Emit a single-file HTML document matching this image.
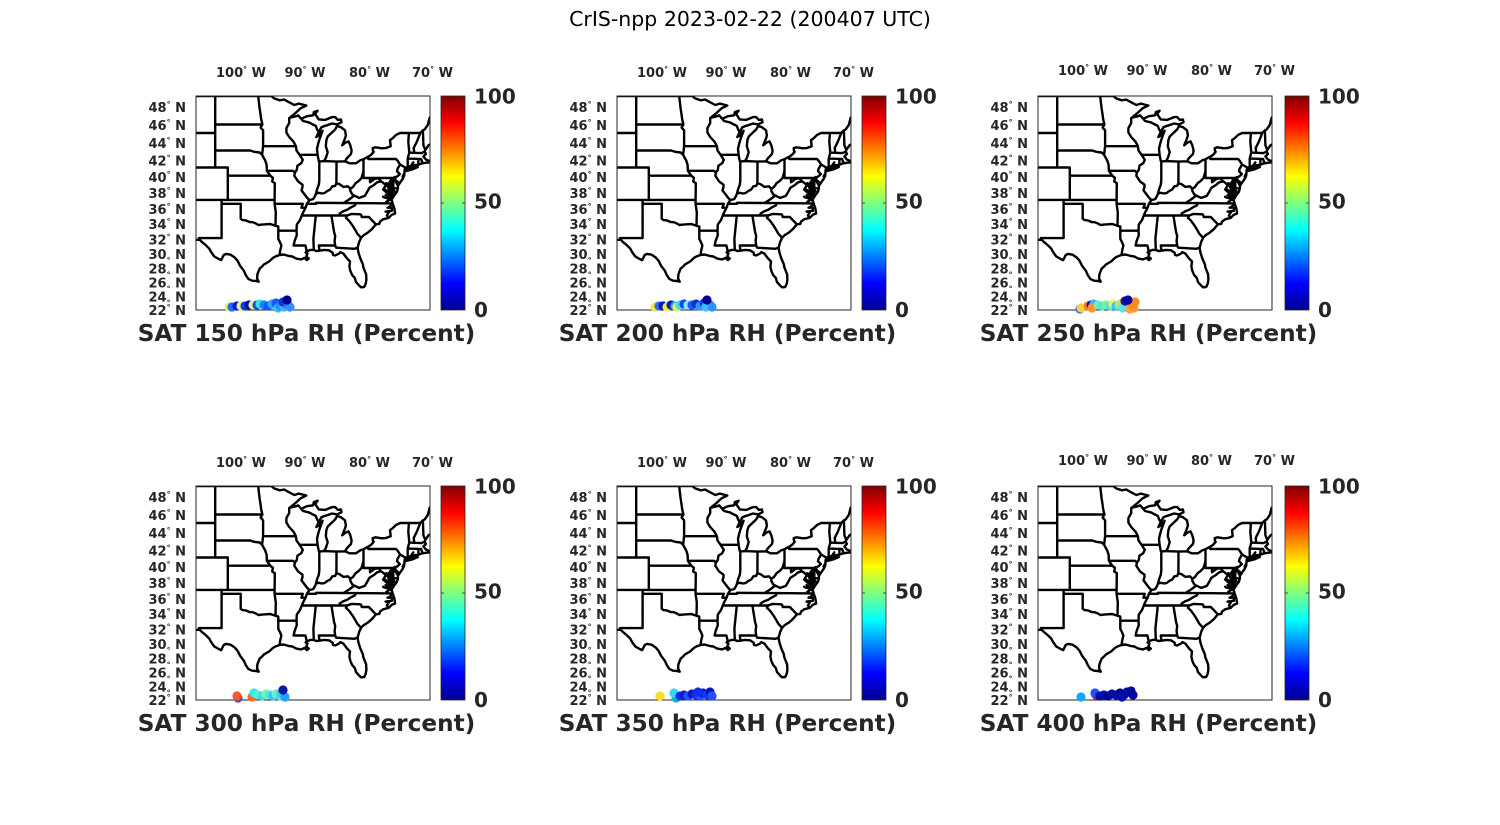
<!DOCTYPE html>
<html><head><meta charset="utf-8"><style>
html,body{margin:0;padding:0;background:#fff;}
svg{display:block;}
text{font-family:"DejaVu Sans","Liberation Sans",sans-serif;}
.tk{font-size:13px;font-weight:bold;fill:#262626;}
.cb{font-size:20px;font-weight:bold;fill:#262626;}
.tt{font-size:23.2px;font-weight:bold;fill:#262626;}
.dg{font-size:8px;}
.mp{fill:none;stroke:#000;stroke-width:2.4;stroke-linejoin:round;stroke-linecap:round;}
circle{r:4.6px;}
</style></head><body>
<svg width="1500" height="825" viewBox="0 0 1500 825" xmlns="http://www.w3.org/2000/svg">
<defs>
<linearGradient id="jet" x1="0" y1="1" x2="0" y2="0">
 <stop offset="0" stop-color="#00008f"/>
 <stop offset="0.125" stop-color="#0000ff"/>
 <stop offset="0.375" stop-color="#00ffff"/>
 <stop offset="0.625" stop-color="#ffff00"/>
 <stop offset="0.875" stop-color="#ff0000"/>
 <stop offset="1" stop-color="#800000"/>
</linearGradient>
<clipPath id="fc"><rect x="0" y="0" width="234" height="214"/></clipPath>
</defs>
<rect width="1500" height="825" fill="#fff"/>
<text x="750" y="26" text-anchor="middle" font-size="20.5" fill="#000">CrIS-npp 2023-02-22 (200407 UTC)</text>

<!-- PANEL 1 -->
<g transform="translate(196,96)">
<g clip-path="url(#fc)"><path class="mp"/><path class="bay" fill="#000"/></g>
<rect x="0" y="0" width="234" height="214" fill="none" stroke="#262626" stroke-width="1"/>
<rect x="245" y="0" width="24" height="214" fill="url(#jet)" stroke="#262626" stroke-width="0.8"/>
<path d="M266 0.5H269M266 107H269M266 213.5H269M245 107H248" stroke="#262626" stroke-width="0.8"/>
<text class="cb" x="278" y="7.5">100</text><text class="cb" x="278" y="112.5">50</text><text class="cb" x="278" y="221">0</text>
<text class="tk" x="45" y="-19" text-anchor="middle">100<tspan class="dg" dy="-5">°</tspan><tspan dy="5"> W</tspan></text>
<text class="tk" x="109" y="-19" text-anchor="middle">90<tspan class="dg" dy="-5">°</tspan><tspan dy="5"> W</tspan></text>
<text class="tk" x="173.5" y="-19" text-anchor="middle">80<tspan class="dg" dy="-5">°</tspan><tspan dy="5"> W</tspan></text>
<text class="tk" x="236.5" y="-19" text-anchor="middle">70<tspan class="dg" dy="-5">°</tspan><tspan dy="5"> W</tspan></text>
<g text-anchor="end">
<text class="tk" x="-10" y="16">48<tspan class="dg" dy="-5">°</tspan><tspan dy="5"> N</tspan></text>
<text class="tk" x="-10" y="34">46<tspan class="dg" dy="-5">°</tspan><tspan dy="5"> N</tspan></text>
<text class="tk" x="-10" y="52">44<tspan class="dg" dy="-5">°</tspan><tspan dy="5"> N</tspan></text>
<text class="tk" x="-10" y="69.5">42<tspan class="dg" dy="-5">°</tspan><tspan dy="5"> N</tspan></text>
<text class="tk" x="-10" y="86">40<tspan class="dg" dy="-5">°</tspan><tspan dy="5"> N</tspan></text>
<text class="tk" x="-10" y="102">38<tspan class="dg" dy="-5">°</tspan><tspan dy="5"> N</tspan></text>
<text class="tk" x="-10" y="118">36<tspan class="dg" dy="-5">°</tspan><tspan dy="5"> N</tspan></text>
<text class="tk" x="-10" y="133">34<tspan class="dg" dy="-5">°</tspan><tspan dy="5"> N</tspan></text>
<text class="tk" x="-10" y="148.5">32<tspan class="dg" dy="-5">°</tspan><tspan dy="5"> N</tspan></text>
<text class="tk" x="-10" y="163">30<tspan class="dg" dy="4">°</tspan><tspan dy="-4"> N</tspan></text>
<text class="tk" x="-10" y="177.5">28<tspan class="dg" dy="4">°</tspan><tspan dy="-4"> N</tspan></text>
<text class="tk" x="-10" y="191.5">26<tspan class="dg" dy="4">°</tspan><tspan dy="-4"> N</tspan></text>
<text class="tk" x="-10" y="205.5">24<tspan class="dg" dy="4">°</tspan><tspan dy="-4"> N</tspan></text>
<text class="tk" x="-10" y="219">22<tspan class="dg" dy="-5">°</tspan><tspan dy="5"> N</tspan></text>
</g>
<text class="tt" x="110.5" y="245" text-anchor="middle">SAT 150 hPa RH (Percent)</text>
</g>

<!-- PANEL 2 -->
<g transform="translate(617,96)">
<g clip-path="url(#fc)"><path class="mp"/><path class="bay" fill="#000"/></g>
<rect x="0" y="0" width="234" height="214" fill="none" stroke="#262626" stroke-width="1"/>
<rect x="245" y="0" width="24" height="214" fill="url(#jet)" stroke="#262626" stroke-width="0.8"/>
<path d="M266 0.5H269M266 107H269M266 213.5H269M245 107H248" stroke="#262626" stroke-width="0.8"/>
<text class="cb" x="278" y="7.5">100</text><text class="cb" x="278" y="112.5">50</text><text class="cb" x="278" y="221">0</text>
<text class="tk" x="45" y="-19" text-anchor="middle">100<tspan class="dg" dy="-5">°</tspan><tspan dy="5"> W</tspan></text>
<text class="tk" x="109" y="-19" text-anchor="middle">90<tspan class="dg" dy="-5">°</tspan><tspan dy="5"> W</tspan></text>
<text class="tk" x="173.5" y="-19" text-anchor="middle">80<tspan class="dg" dy="-5">°</tspan><tspan dy="5"> W</tspan></text>
<text class="tk" x="236.5" y="-19" text-anchor="middle">70<tspan class="dg" dy="-5">°</tspan><tspan dy="5"> W</tspan></text>
<g text-anchor="end">
<text class="tk" x="-10" y="16">48<tspan class="dg" dy="-5">°</tspan><tspan dy="5"> N</tspan></text>
<text class="tk" x="-10" y="34">46<tspan class="dg" dy="-5">°</tspan><tspan dy="5"> N</tspan></text>
<text class="tk" x="-10" y="52">44<tspan class="dg" dy="-5">°</tspan><tspan dy="5"> N</tspan></text>
<text class="tk" x="-10" y="69.5">42<tspan class="dg" dy="-5">°</tspan><tspan dy="5"> N</tspan></text>
<text class="tk" x="-10" y="86">40<tspan class="dg" dy="-5">°</tspan><tspan dy="5"> N</tspan></text>
<text class="tk" x="-10" y="102">38<tspan class="dg" dy="-5">°</tspan><tspan dy="5"> N</tspan></text>
<text class="tk" x="-10" y="118">36<tspan class="dg" dy="-5">°</tspan><tspan dy="5"> N</tspan></text>
<text class="tk" x="-10" y="133">34<tspan class="dg" dy="-5">°</tspan><tspan dy="5"> N</tspan></text>
<text class="tk" x="-10" y="148.5">32<tspan class="dg" dy="-5">°</tspan><tspan dy="5"> N</tspan></text>
<text class="tk" x="-10" y="163">30<tspan class="dg" dy="4">°</tspan><tspan dy="-4"> N</tspan></text>
<text class="tk" x="-10" y="177.5">28<tspan class="dg" dy="4">°</tspan><tspan dy="-4"> N</tspan></text>
<text class="tk" x="-10" y="191.5">26<tspan class="dg" dy="4">°</tspan><tspan dy="-4"> N</tspan></text>
<text class="tk" x="-10" y="205.5">24<tspan class="dg" dy="4">°</tspan><tspan dy="-4"> N</tspan></text>
<text class="tk" x="-10" y="219">22<tspan class="dg" dy="-5">°</tspan><tspan dy="5"> N</tspan></text>
</g>
<text class="tt" x="110.5" y="245" text-anchor="middle">SAT 200 hPa RH (Percent)</text>
</g>

<!-- PANEL 3 -->
<g transform="translate(1038,96)">
<g clip-path="url(#fc)"><path class="mp"/><path class="bay" fill="#000"/></g>
<rect x="0" y="0" width="234" height="214" fill="none" stroke="#262626" stroke-width="1"/>
<rect x="247" y="0" width="24" height="214" fill="url(#jet)" stroke="#262626" stroke-width="0.8"/>
<path d="M268 0.5H271M268 107H271M268 213.5H271M247 107H250" stroke="#262626" stroke-width="0.8"/>
<text class="cb" x="280" y="7.5">100</text><text class="cb" x="280" y="112.5">50</text><text class="cb" x="280" y="221">0</text>
<text class="tk" x="45" y="-21" text-anchor="middle">100<tspan class="dg" dy="-5">°</tspan><tspan dy="5"> W</tspan></text>
<text class="tk" x="109" y="-21" text-anchor="middle">90<tspan class="dg" dy="-5">°</tspan><tspan dy="5"> W</tspan></text>
<text class="tk" x="173.5" y="-21" text-anchor="middle">80<tspan class="dg" dy="-5">°</tspan><tspan dy="5"> W</tspan></text>
<text class="tk" x="236.5" y="-21" text-anchor="middle">70<tspan class="dg" dy="-5">°</tspan><tspan dy="5"> W</tspan></text>
<g text-anchor="end">
<text class="tk" x="-10" y="16">48<tspan class="dg" dy="-5">°</tspan><tspan dy="5"> N</tspan></text>
<text class="tk" x="-10" y="34">46<tspan class="dg" dy="-5">°</tspan><tspan dy="5"> N</tspan></text>
<text class="tk" x="-10" y="52">44<tspan class="dg" dy="-5">°</tspan><tspan dy="5"> N</tspan></text>
<text class="tk" x="-10" y="69.5">42<tspan class="dg" dy="-5">°</tspan><tspan dy="5"> N</tspan></text>
<text class="tk" x="-10" y="86">40<tspan class="dg" dy="-5">°</tspan><tspan dy="5"> N</tspan></text>
<text class="tk" x="-10" y="102">38<tspan class="dg" dy="-5">°</tspan><tspan dy="5"> N</tspan></text>
<text class="tk" x="-10" y="118">36<tspan class="dg" dy="-5">°</tspan><tspan dy="5"> N</tspan></text>
<text class="tk" x="-10" y="133">34<tspan class="dg" dy="-5">°</tspan><tspan dy="5"> N</tspan></text>
<text class="tk" x="-10" y="148.5">32<tspan class="dg" dy="-5">°</tspan><tspan dy="5"> N</tspan></text>
<text class="tk" x="-10" y="163">30<tspan class="dg" dy="4">°</tspan><tspan dy="-4"> N</tspan></text>
<text class="tk" x="-10" y="177.5">28<tspan class="dg" dy="4">°</tspan><tspan dy="-4"> N</tspan></text>
<text class="tk" x="-10" y="191.5">26<tspan class="dg" dy="4">°</tspan><tspan dy="-4"> N</tspan></text>
<text class="tk" x="-10" y="205.5">24<tspan class="dg" dy="4">°</tspan><tspan dy="-4"> N</tspan></text>
<text class="tk" x="-10" y="219">22<tspan class="dg" dy="-5">°</tspan><tspan dy="5"> N</tspan></text>
</g>
<text class="tt" x="110.5" y="245" text-anchor="middle">SAT 250 hPa RH (Percent)</text>
</g>

<!-- PANEL 4 -->
<g transform="translate(196,486)">
<g clip-path="url(#fc)"><path class="mp"/><path class="bay" fill="#000"/></g>
<rect x="0" y="0" width="234" height="214" fill="none" stroke="#262626" stroke-width="1"/>
<rect x="245" y="0" width="24" height="214" fill="url(#jet)" stroke="#262626" stroke-width="0.8"/>
<path d="M266 0.5H269M266 107H269M266 213.5H269M245 107H248" stroke="#262626" stroke-width="0.8"/>
<text class="cb" x="278" y="7.5">100</text><text class="cb" x="278" y="112.5">50</text><text class="cb" x="278" y="221">0</text>
<text class="tk" x="45" y="-19" text-anchor="middle">100<tspan class="dg" dy="-5">°</tspan><tspan dy="5"> W</tspan></text>
<text class="tk" x="109" y="-19" text-anchor="middle">90<tspan class="dg" dy="-5">°</tspan><tspan dy="5"> W</tspan></text>
<text class="tk" x="173.5" y="-19" text-anchor="middle">80<tspan class="dg" dy="-5">°</tspan><tspan dy="5"> W</tspan></text>
<text class="tk" x="236.5" y="-19" text-anchor="middle">70<tspan class="dg" dy="-5">°</tspan><tspan dy="5"> W</tspan></text>
<g text-anchor="end">
<text class="tk" x="-10" y="16">48<tspan class="dg" dy="-5">°</tspan><tspan dy="5"> N</tspan></text>
<text class="tk" x="-10" y="34">46<tspan class="dg" dy="-5">°</tspan><tspan dy="5"> N</tspan></text>
<text class="tk" x="-10" y="52">44<tspan class="dg" dy="-5">°</tspan><tspan dy="5"> N</tspan></text>
<text class="tk" x="-10" y="69.5">42<tspan class="dg" dy="-5">°</tspan><tspan dy="5"> N</tspan></text>
<text class="tk" x="-10" y="86">40<tspan class="dg" dy="-5">°</tspan><tspan dy="5"> N</tspan></text>
<text class="tk" x="-10" y="102">38<tspan class="dg" dy="-5">°</tspan><tspan dy="5"> N</tspan></text>
<text class="tk" x="-10" y="118">36<tspan class="dg" dy="-5">°</tspan><tspan dy="5"> N</tspan></text>
<text class="tk" x="-10" y="133">34<tspan class="dg" dy="-5">°</tspan><tspan dy="5"> N</tspan></text>
<text class="tk" x="-10" y="148.5">32<tspan class="dg" dy="-5">°</tspan><tspan dy="5"> N</tspan></text>
<text class="tk" x="-10" y="163">30<tspan class="dg" dy="4">°</tspan><tspan dy="-4"> N</tspan></text>
<text class="tk" x="-10" y="177.5">28<tspan class="dg" dy="4">°</tspan><tspan dy="-4"> N</tspan></text>
<text class="tk" x="-10" y="191.5">26<tspan class="dg" dy="4">°</tspan><tspan dy="-4"> N</tspan></text>
<text class="tk" x="-10" y="205.5">24<tspan class="dg" dy="4">°</tspan><tspan dy="-4"> N</tspan></text>
<text class="tk" x="-10" y="219">22<tspan class="dg" dy="-5">°</tspan><tspan dy="5"> N</tspan></text>
</g>
<text class="tt" x="110.5" y="245" text-anchor="middle">SAT 300 hPa RH (Percent)</text>
</g>

<!-- PANEL 5 -->
<g transform="translate(617,486)">
<g clip-path="url(#fc)"><path class="mp"/><path class="bay" fill="#000"/></g>
<rect x="0" y="0" width="234" height="214" fill="none" stroke="#262626" stroke-width="1"/>
<rect x="245" y="0" width="24" height="214" fill="url(#jet)" stroke="#262626" stroke-width="0.8"/>
<path d="M266 0.5H269M266 107H269M266 213.5H269M245 107H248" stroke="#262626" stroke-width="0.8"/>
<text class="cb" x="278" y="7.5">100</text><text class="cb" x="278" y="112.5">50</text><text class="cb" x="278" y="221">0</text>
<text class="tk" x="45" y="-19" text-anchor="middle">100<tspan class="dg" dy="-5">°</tspan><tspan dy="5"> W</tspan></text>
<text class="tk" x="109" y="-19" text-anchor="middle">90<tspan class="dg" dy="-5">°</tspan><tspan dy="5"> W</tspan></text>
<text class="tk" x="173.5" y="-19" text-anchor="middle">80<tspan class="dg" dy="-5">°</tspan><tspan dy="5"> W</tspan></text>
<text class="tk" x="236.5" y="-19" text-anchor="middle">70<tspan class="dg" dy="-5">°</tspan><tspan dy="5"> W</tspan></text>
<g text-anchor="end">
<text class="tk" x="-10" y="16">48<tspan class="dg" dy="-5">°</tspan><tspan dy="5"> N</tspan></text>
<text class="tk" x="-10" y="34">46<tspan class="dg" dy="-5">°</tspan><tspan dy="5"> N</tspan></text>
<text class="tk" x="-10" y="52">44<tspan class="dg" dy="-5">°</tspan><tspan dy="5"> N</tspan></text>
<text class="tk" x="-10" y="69.5">42<tspan class="dg" dy="-5">°</tspan><tspan dy="5"> N</tspan></text>
<text class="tk" x="-10" y="86">40<tspan class="dg" dy="-5">°</tspan><tspan dy="5"> N</tspan></text>
<text class="tk" x="-10" y="102">38<tspan class="dg" dy="-5">°</tspan><tspan dy="5"> N</tspan></text>
<text class="tk" x="-10" y="118">36<tspan class="dg" dy="-5">°</tspan><tspan dy="5"> N</tspan></text>
<text class="tk" x="-10" y="133">34<tspan class="dg" dy="-5">°</tspan><tspan dy="5"> N</tspan></text>
<text class="tk" x="-10" y="148.5">32<tspan class="dg" dy="-5">°</tspan><tspan dy="5"> N</tspan></text>
<text class="tk" x="-10" y="163">30<tspan class="dg" dy="4">°</tspan><tspan dy="-4"> N</tspan></text>
<text class="tk" x="-10" y="177.5">28<tspan class="dg" dy="4">°</tspan><tspan dy="-4"> N</tspan></text>
<text class="tk" x="-10" y="191.5">26<tspan class="dg" dy="4">°</tspan><tspan dy="-4"> N</tspan></text>
<text class="tk" x="-10" y="205.5">24<tspan class="dg" dy="4">°</tspan><tspan dy="-4"> N</tspan></text>
<text class="tk" x="-10" y="219">22<tspan class="dg" dy="-5">°</tspan><tspan dy="5"> N</tspan></text>
</g>
<text class="tt" x="110.5" y="245" text-anchor="middle">SAT 350 hPa RH (Percent)</text>
</g>

<!-- PANEL 6 -->
<g transform="translate(1038,486)">
<g clip-path="url(#fc)"><path class="mp"/><path class="bay" fill="#000"/></g>
<rect x="0" y="0" width="234" height="214" fill="none" stroke="#262626" stroke-width="1"/>
<rect x="247" y="0" width="24" height="214" fill="url(#jet)" stroke="#262626" stroke-width="0.8"/>
<path d="M268 0.5H271M268 107H271M268 213.5H271M247 107H250" stroke="#262626" stroke-width="0.8"/>
<text class="cb" x="280" y="7.5">100</text><text class="cb" x="280" y="112.5">50</text><text class="cb" x="280" y="221">0</text>
<text class="tk" x="45" y="-21" text-anchor="middle">100<tspan class="dg" dy="-5">°</tspan><tspan dy="5"> W</tspan></text>
<text class="tk" x="109" y="-21" text-anchor="middle">90<tspan class="dg" dy="-5">°</tspan><tspan dy="5"> W</tspan></text>
<text class="tk" x="173.5" y="-21" text-anchor="middle">80<tspan class="dg" dy="-5">°</tspan><tspan dy="5"> W</tspan></text>
<text class="tk" x="236.5" y="-21" text-anchor="middle">70<tspan class="dg" dy="-5">°</tspan><tspan dy="5"> W</tspan></text>
<g text-anchor="end">
<text class="tk" x="-10" y="16">48<tspan class="dg" dy="-5">°</tspan><tspan dy="5"> N</tspan></text>
<text class="tk" x="-10" y="34">46<tspan class="dg" dy="-5">°</tspan><tspan dy="5"> N</tspan></text>
<text class="tk" x="-10" y="52">44<tspan class="dg" dy="-5">°</tspan><tspan dy="5"> N</tspan></text>
<text class="tk" x="-10" y="69.5">42<tspan class="dg" dy="-5">°</tspan><tspan dy="5"> N</tspan></text>
<text class="tk" x="-10" y="86">40<tspan class="dg" dy="-5">°</tspan><tspan dy="5"> N</tspan></text>
<text class="tk" x="-10" y="102">38<tspan class="dg" dy="-5">°</tspan><tspan dy="5"> N</tspan></text>
<text class="tk" x="-10" y="118">36<tspan class="dg" dy="-5">°</tspan><tspan dy="5"> N</tspan></text>
<text class="tk" x="-10" y="133">34<tspan class="dg" dy="-5">°</tspan><tspan dy="5"> N</tspan></text>
<text class="tk" x="-10" y="148.5">32<tspan class="dg" dy="-5">°</tspan><tspan dy="5"> N</tspan></text>
<text class="tk" x="-10" y="163">30<tspan class="dg" dy="4">°</tspan><tspan dy="-4"> N</tspan></text>
<text class="tk" x="-10" y="177.5">28<tspan class="dg" dy="4">°</tspan><tspan dy="-4"> N</tspan></text>
<text class="tk" x="-10" y="191.5">26<tspan class="dg" dy="4">°</tspan><tspan dy="-4"> N</tspan></text>
<text class="tk" x="-10" y="205.5">24<tspan class="dg" dy="4">°</tspan><tspan dy="-4"> N</tspan></text>
<text class="tk" x="-10" y="219">22<tspan class="dg" dy="-5">°</tspan><tspan dy="5"> N</tspan></text>
</g>
<text class="tt" x="110.5" y="245" text-anchor="middle">SAT 400 hPa RH (Percent)</text>
</g>

<!-- DOTS (coords in panel-1 absolute space) -->
<g transform="translate(0,0)">
<circle cx="229" cy="307" r="4.6" fill="#e4f26a"/><circle cx="232" cy="307" r="4.6" fill="#1e6cff"/>
<circle cx="237" cy="306" r="4.6" fill="#0a1ad0"/><circle cx="241" cy="306" r="4.6" fill="#e8f27a"/>
<circle cx="245" cy="306" r="4.6" fill="#0e3cf0"/><circle cx="249" cy="305" r="4.6" fill="#00109c"/>
<circle cx="253" cy="305" r="4.6" fill="#eaf08a"/><circle cx="257" cy="305" r="4.6" fill="#1a4ee6"/>
<circle cx="260" cy="304" r="4.6" fill="#36e6e0"/><circle cx="264" cy="305" r="4.6" fill="#1e82ff"/>
<circle cx="268" cy="306" r="4.6" fill="#0a5cff"/><circle cx="272" cy="304" r="4.6" fill="#3ca0ff"/>
<circle cx="276" cy="303" r="4.6" fill="#1858ff"/><circle cx="278" cy="308" r="4.6" fill="#30c4ff"/>
<circle cx="280" cy="306" r="4.6" fill="#2f8cff"/><circle cx="284" cy="307" r="4.6" fill="#3fb0ff"/>
<circle cx="283" cy="302" r="4.6" fill="#0a36d6"/><circle cx="288" cy="305" r="4.6" fill="#1f6eff"/>
<circle cx="290" cy="307" r="4.6" fill="#3c8cff"/><circle cx="287" cy="300" r="4.6" fill="#00008c"/>
</g>
<g transform="translate(421,0)">
<circle cx="234" cy="307" r="4.6" fill="#f2e840"/><circle cx="238" cy="306" r="4.6" fill="#2a70ff"/>
<circle cx="242" cy="306" r="4.6" fill="#0818b8"/><circle cx="246" cy="307" r="4.6" fill="#f4ea40"/>
<circle cx="250" cy="305" r="4.6" fill="#0a20c0"/><circle cx="254" cy="306" r="4.6" fill="#30a8ff"/>
<circle cx="256" cy="307" r="4.6" fill="#f2ea50"/><circle cx="259" cy="305" r="4.6" fill="#30e0f0"/>
<circle cx="263" cy="304" r="4.6" fill="#1446f0"/><circle cx="267" cy="305" r="4.6" fill="#8ae8ff"/>
<circle cx="271" cy="305" r="4.6" fill="#1a5cff"/><circle cx="275" cy="304" r="4.6" fill="#0c30d8"/>
<circle cx="279" cy="306" r="4.6" fill="#3296ff"/><circle cx="283" cy="303" r="4.6" fill="#1040e8"/>
<circle cx="289" cy="305" r="4.6" fill="#2a78ff"/><circle cx="285" cy="307" r="4.6" fill="#40c0ff"/>
<circle cx="291" cy="307" r="4.6" fill="#3090ff"/><circle cx="286" cy="300" r="4.6" fill="#00008c"/>
</g>
<g transform="translate(842,0)">
<circle cx="238" cy="309" r="4.6" fill="#2a60ff"/><circle cx="239" cy="308" r="4.6" fill="#f8d040"/>
<circle cx="246" cy="306" r="4.6" fill="#ff8020"/><circle cx="249" cy="305" r="4.6" fill="#101ab0"/>
<circle cx="252" cy="304" r="4.6" fill="#40b0ff"/><circle cx="250" cy="308" r="4.6" fill="#ff9030"/>
<circle cx="256" cy="305" r="4.6" fill="#70f0b0"/><circle cx="260" cy="306" r="4.6" fill="#50e8d0"/>
<circle cx="264" cy="305" r="4.6" fill="#80f0a0"/><circle cx="268" cy="306" r="4.6" fill="#50e0e0"/>
<circle cx="271" cy="304" r="4.6" fill="#f0f060"/><circle cx="274" cy="306" r="4.6" fill="#40c0ff"/>
<circle cx="277" cy="305" r="4.6" fill="#80f0b0"/><circle cx="280" cy="303" r="4.6" fill="#f0d040"/>
<circle cx="281" cy="308" r="4.6" fill="#60e0e0"/><circle cx="288" cy="309" r="4.6" fill="#ffa040"/>
<circle cx="292" cy="308" r="4.6" fill="#ff9a30"/><circle cx="290" cy="305" r="4.6" fill="#ff8a20"/>
<circle cx="293" cy="302" r="4.6" fill="#ff8a20"/><circle cx="283" cy="301" r="4.6" fill="#0818a8"/>
<circle cx="286" cy="300" r="4.6" fill="#0000a0"/>
</g>
<g transform="translate(0,390)">
<circle cx="238" cy="308" r="4.6" fill="#6040b0"/><circle cx="237" cy="306" r="4.6" fill="#ee5a2a"/>
<circle cx="252" cy="307" r="4.6" fill="#ff6a20"/><circle cx="254" cy="303" r="4.6" fill="#30e8f0"/>
<circle cx="258" cy="305" r="4.6" fill="#60f0c0"/><circle cx="262" cy="306" r="4.6" fill="#40d8f0"/>
<circle cx="266" cy="304" r="4.6" fill="#80f0b0"/><circle cx="270" cy="305" r="4.6" fill="#50e8d8"/>
<circle cx="273" cy="306" r="4.6" fill="#30c8ff"/><circle cx="276" cy="304" r="4.6" fill="#70f0c0"/>
<circle cx="280" cy="306" r="4.6" fill="#50e0e0"/><circle cx="281" cy="303" r="4.6" fill="#40c8f0"/>
<circle cx="285" cy="307" r="4.6" fill="#20a0ff"/><circle cx="283" cy="300" r="4.6" fill="#0a1aa0"/>
</g>
<g transform="translate(421,390)">
<circle cx="239" cy="306" r="4.6" fill="#f8e020"/><circle cx="255" cy="308" r="4.6" fill="#20b0c0"/>
<circle cx="253" cy="303" r="4.6" fill="#30d8ff"/><circle cx="259" cy="306" r="4.6" fill="#1030f0"/>
<circle cx="263" cy="305" r="4.6" fill="#0a20d0"/><circle cx="267" cy="306" r="4.6" fill="#2050ff"/>
<circle cx="271" cy="304" r="4.6" fill="#0818c0"/><circle cx="275" cy="305" r="4.6" fill="#1030f0"/>
<circle cx="279" cy="306" r="4.6" fill="#2050ff"/><circle cx="282" cy="303" r="4.6" fill="#0a20d0"/>
<circle cx="286" cy="305" r="4.6" fill="#1838ff"/><circle cx="289" cy="302" r="4.6" fill="#0818c0"/>
<circle cx="291" cy="306" r="4.6" fill="#2050ff"/><circle cx="277" cy="302" r="4.6" fill="#1030f0"/>
</g>
<g transform="translate(842,390)">
<circle cx="239" cy="307" r="4.6" fill="#10a8ff"/><circle cx="254" cy="305" r="4.6" fill="#a02060"/>
<circle cx="253" cy="303" r="4.6" fill="#2050ff"/><circle cx="258" cy="306" r="4.6" fill="#000a9c"/>
<circle cx="262" cy="305" r="4.6" fill="#0010b0"/><circle cx="266" cy="306" r="4.6" fill="#000890"/>
<circle cx="270" cy="304" r="4.6" fill="#000a9c"/><circle cx="274" cy="305" r="4.6" fill="#0010b0"/>
<circle cx="278" cy="303" r="4.6" fill="#000890"/><circle cx="282" cy="305" r="4.6" fill="#000a9c"/>
<circle cx="285" cy="302" r="4.6" fill="#0010b0"/><circle cx="289" cy="301" r="4.6" fill="#000890"/>
<circle cx="291" cy="305" r="4.6" fill="#000a9c"/><circle cx="280" cy="307" r="4.6" fill="#0010b0"/>
</g>
</svg>
<script>
(function(){
function merc(l){return Math.log(Math.tan(Math.PI/4+l*Math.PI/360));}
var K=6.3,R=6.3*180/Math.PI,M49=merc(49),L0=-107.1;
function P(lon,lat){return ((lon-L0)*K).toFixed(1)+' '+((M49-merc(lat))*R).toFixed(1);}
var L=[
[-108,49,-95.15,49,-94.7,48.75,-93.8,48.55,-93.1,48.63,-92.6,48.45,-91.5,48.05,-90.8,48.2,-89.6,48.0,-90.5,47.7,-91.3,47.2,-92.1,46.75,-92.3,46.65,-92.3,46.1,-92.75,45.55,-92.75,45.05,-92.3,44.55,-91.6,44.0,-91.25,43.5,-91.15,43.0,-90.65,42.5,-90.15,41.9,-90.4,41.5,-91.0,41.2,-91.1,40.7,-91.4,40.38,-91.5,40.0,-90.9,39.3,-90.2,38.9,-90.2,38.6,-90.35,38.2,-89.5,37.3,-89.1,36.98,-89.5,36.5,-89.7,36.0,-90.1,35.4,-90.3,35.0,-90.6,34.4,-91.1,33.8,-91.15,33.0,-91.1,32.4,-91.45,31.6,-91.6,31.0,-89.73,31.0,-89.6,30.5,-89.55,30.2],
[-104.05,49,-104.05,41,-102.05,41,-102.05,37],
[-108,45,-104.05,45],
[-108,41,-104.05,41],
[-108,37,-94.62,37],
[-104.05,45.94,-96.56,45.94],
[-97.23,49,-97.15,48.5,-97.0,47.7,-96.85,47.0,-96.75,46.5,-96.56,45.94,-96.85,45.6,-96.45,45.3,-96.45,43.5,-91.25,43.5],
[-104.05,43,-98.5,43,-97.9,42.85,-97.0,42.77,-96.6,42.5,-96.1,41.8,-95.9,41.3,-95.85,40.6,-95.3,40.0,-94.9,39.75,-95.0,39.3,-94.6,39.1,-94.62,37,-94.62,36.5,-94.43,35.4,-94.48,33.64],
[-96.6,42.5,-96.45,43.5],
[-102.05,40,-95.3,40],
[-95.85,40.6,-91.7,40.6,-91.4,40.38],
[-103.04,32.0,-103.04,37],
[-103.04,36.5,-100,36.5,-100,34.56,-99.7,34.4,-99.2,34.35,-98.6,34.15,-98.1,34.12,-97.6,33.95,-97.2,33.75,-96.6,33.8,-96.0,33.85,-95.3,33.88,-94.48,33.64,-94.04,33.55,-94.04,31.9,-93.8,31.5,-93.55,31.0,-93.72,30.4,-93.85,29.7],
[-108,31.78,-106.5,31.78,-106.62,32.0,-103.04,32.0],
[-93.85,29.7,-94.5,29.5,-94.8,29.35,-95.0,29.2,-95.5,28.8,-96.3,28.4,-96.6,28.1,-97.0,27.8,-97.35,27.0,-97.4,26.4,-97.15,25.95,-97.6,26.05,-98.2,26.1,-98.8,26.35,-99.2,26.9,-99.5,27.5,-100.1,28.2,-100.5,28.9,-101.0,29.4,-101.6,29.75,-102.3,29.85,-102.7,29.7,-103.1,29.0,-103.5,29.15,-104.2,29.5,-104.7,30.1,-105.0,30.6,-105.6,31.1,-106.2,31.5,-106.62,31.9],
[-94.62,36.5,-90.15,36.5,-90.37,36.0,-89.7,36.0],
[-94.04,33.0,-91.15,33.0],
[-89.55,30.2,-89.7,30.05,-89.4,29.9,-89.6,29.5,-89.2,29.2,-89.5,29.0,-89.9,29.3,-90.4,29.1,-91.2,29.2,-91.8,29.5,-92.3,29.55,-93.2,29.77,-93.85,29.7],
[-89.55,30.2,-88.9,30.4,-88.4,30.4,-88.47,31.9,-88.1,34.9,-88.2,35.0],
[-90.3,35.0,-84.32,34.99],
[-89.5,36.5,-88.05,36.5,-88.05,36.63,-83.67,36.6,-81.68,36.59,-75.9,36.55],
[-81.68,36.59,-81.9,36.3,-82.6,36.0,-83.1,35.75,-83.7,35.55,-84.3,35.25,-84.32,34.99],
[-85.6,35.0,-85.18,32.8,-85.0,32.3,-85.1,31.6,-85.0,31.0,-87.6,31.0,-87.5,30.3,-88.0,30.25,-88.4,30.4],
[-85.0,31.0,-84.86,30.7,-82.2,30.57,-82.0,30.55,-81.45,30.7],
[-81.45,30.7,-81.3,30.0,-81.0,29.2,-80.6,28.4,-80.55,28.0,-80.1,27.0,-80.05,26.3,-80.15,25.7,-80.4,25.2,-80.9,25.15,-81.2,25.4,-81.7,25.9,-81.9,26.5,-82.3,26.9,-82.6,27.5,-82.75,28.1,-82.65,28.8,-83.2,29.3,-83.7,29.9,-84.2,30.1,-84.4,29.9,-85.0,29.65,-85.35,29.7,-85.4,30.0,-86.0,30.35,-86.8,30.4,-87.5,30.3],
[-84.32,34.99,-83.1,35.0,-82.4,35.2,-81.05,35.15,-80.9,35.1,-80.8,34.8,-79.67,34.8,-78.55,33.85],
[-83.1,35.0,-83.3,34.7,-82.8,34.3,-82.2,33.6,-81.9,33.2,-81.5,32.6,-80.9,32.05],
[-80.9,32.05,-81.2,31.5,-81.45,30.7],
[-78.55,33.85,-79.2,33.2,-79.9,32.7,-80.5,32.4,-80.9,32.05],
[-78.55,33.85,-78.0,33.9,-77.9,34.2,-77.4,34.5,-76.5,34.7,-76.0,35.1,-75.5,35.25,-75.6,35.9,-75.9,36.55],
[-76.5,34.7,-76.8,35.0,-76.5,35.4,-77.0,35.5,-76.0,35.6,-76.0,36.0,-76.7,36.0,-76.4,36.1,-75.9,36.55],
[-89.1,36.98,-88.5,37.1,-88.2,37.5,-88.05,37.8,-87.6,37.9,-87.1,37.8,-86.7,37.85,-86.3,38.1,-85.8,38.3,-85.45,38.7,-85.0,38.75,-84.82,39.1,-84.3,38.95,-83.7,38.63,-83.0,38.7,-82.6,38.4,-82.2,38.6,-81.75,39.1,-81.3,39.35,-80.85,39.7,-80.6,40.3,-80.52,40.64,-80.52,41.98],
[-88.05,37.8,-87.9,38.3,-87.6,38.9,-87.53,39.4,-87.53,41.76],
[-90.65,42.5,-87.8,42.5,-87.6,41.75,-87.53,41.7,-86.8,41.76],
[-84.8,41.7,-84.82,39.1],
[-86.8,41.76,-84.8,41.7,-83.45,41.73],
[-83.45,41.73,-82.7,41.5,-81.7,41.5,-81.0,41.85,-80.52,41.98,-79.76,42.27],
[-82.6,38.4,-82.6,38.15,-82.3,37.7,-81.97,37.54,-82.9,37.0,-83.67,36.6],
[-81.97,37.54,-81.2,37.25,-80.3,37.5,-80.0,37.9,-79.6,38.5,-78.8,38.9,-78.35,39.2,-77.72,39.32],
[-80.52,40.64,-80.52,39.72,-79.48,39.72,-79.48,39.2,-78.8,39.6,-78.2,39.7,-77.72,39.32],
[-77.72,39.32,-77.5,39.2,-77.1,38.95,-77.0,38.8,-77.3,38.4,-76.9,38.2,-76.3,37.9,-76.3,37.6,-76.4,37.1,-76.0,36.9,-75.9,36.55],
[-79.48,39.72,-75.79,39.72,-75.79,38.45,-75.05,38.45],
[-75.55,39.6,-75.4,39.3,-75.05,38.8,-75.05,38.45,-75.2,38.05,-75.6,37.6,-75.95,37.15],
[-75.95,37.15,-75.9,37.6,-75.9,38.2,-76.2,38.6,-76.0,39.0,-76.1,39.5,-76.4,39.2,-76.5,38.6,-76.3,38.05],
[-75.79,39.72,-75.55,39.85,-75.4,39.8,-75.55,39.6],
[-79.76,42.27,-79.76,42.0,-75.35,42.0,-75.1,41.8,-74.7,41.35,-75.1,40.85,-75.2,40.55,-74.75,40.2,-75.1,39.95,-75.4,39.8],
[-79.76,42.27,-79.3,42.5,-78.9,42.85,-79.0,42.95,-79.06,43.27,-78.6,43.37,-77.6,43.25,-76.9,43.3,-76.2,43.5,-76.3,44.2,-75.9,44.4,-75.3,44.8,-74.7,45.0,-71.5,45.01,-71.08,45.3,-70.8,45.4,-70.3,45.9,-70.0,46.7,-69.5,47.0],
[-73.3,45.0,-73.4,44.0,-73.25,42.75,-73.5,42.05,-73.5,41.1,-73.65,41.0,-73.9,40.99,-74.7,41.35],
[-73.9,40.99,-74.0,40.6,-74.0,40.45,-74.05,40.0,-74.3,39.6,-74.6,39.3,-74.9,38.93,-75.0,39.2,-75.4,39.45,-75.55,39.6],
[-74.0,40.6,-73.9,40.55,-72.8,40.75,-71.9,41.05,-72.7,40.95,-73.7,40.85,-73.9,40.8],
[-73.5,42.05,-71.8,42.02,-71.38,42.02,-71.12,41.5],
[-73.65,41.0,-73.0,41.2,-72.4,41.27,-71.8,41.33,-71.4,41.45,-71.12,41.5,-70.65,41.55,-70.0,41.6,-70.0,41.75,-70.6,41.95,-71.0,42.3,-70.6,42.6,-70.8,42.87,-70.7,43.07,-70.2,43.6,-69.5,43.9],
[-71.8,42.02,-71.8,41.33],
[-73.25,42.75,-72.45,42.73,-71.3,42.7,-70.8,42.87],
[-72.45,42.73,-72.55,43.3,-72.05,44.0,-71.5,45.01],
[-70.7,43.07,-71.0,43.6,-71.08,45.3],
[-87.8,42.5,-87.9,43.2,-87.7,43.8,-87.5,44.3,-87.0,45.25,-87.6,44.7,-88.0,44.55,-87.6,45.1,-87.85,45.35,-88.1,45.8,-88.7,46.0,-89.1,46.15,-90.1,46.33,-90.4,46.57,-90.9,46.95,-91.2,46.85,-92.1,46.7],
[-90.4,46.57,-89.5,46.85,-88.5,46.95,-88.4,47.3,-87.8,47.45,-88.2,47.1,-87.6,46.5,-86.6,46.45,-85.5,46.75,-85.0,46.75,-84.6,46.45,-84.1,46.5,-84.0,46.2,-84.7,45.95,-85.5,46.05,-86.3,45.85,-86.8,45.75,-87.2,45.65,-87.6,45.1],
[-86.8,41.76,-86.5,42.1,-86.2,42.8,-86.5,43.5,-86.4,44.2,-86.2,44.6,-85.6,45.0,-85.0,45.4,-84.7,45.78,-84.1,45.65,-83.45,45.3,-83.3,44.7,-83.5,44.3,-83.9,43.6,-83.4,43.9,-82.9,44.05,-82.6,43.6,-82.4,43.0,-82.5,42.6,-83.2,42.05,-83.45,41.73],
[-76.3,37.6,-76.9,37.95,-77.4,38.3],
[-76.4,37.25,-76.8,37.5,-77.0,37.6],
[-76.3,37.0,-76.7,37.2,-77.2,37.3,-77.4,37.4],
[-76.4,38.3,-76.7,38.7],
[-76.2,38.6,-75.85,38.75],
[-76.1,39.5,-76.2,39.7],
[-76.0,38.25,-75.75,38.3],
[-76.6,38.9,-76.9,39.1],
[-76.3,38.0,-76.6,38.2],
[-75.9,37.9,-75.6,38.1],
[-76.6,36.9,-76.9,36.75],
[-74.3,39.9,-74.1,40.2],
[-72.9,41.3,-72.6,41.6]
];
var d='';
for(var j=0;j<L.length;j++){var a=L[j];for(var i=0;i<a.length;i+=2){d+=(i?'L':'M')+P(a[i],a[i+1]);}}
var B=[-76.1,39.6,-76.55,39.25,-76.65,38.6,-76.45,38.0,-76.45,37.5,-76.55,37.0,-76.0,36.9,-75.8,37.6,-75.75,38.2,-76.05,38.6,-75.85,39.0,-75.95,39.5];
var b='';for(var i=0;i<B.length;i+=2){b+=(i?'L':'M')+P(B[i],B[i+1]);}b+='Z';
var m=document.querySelectorAll('path.mp');for(var k=0;k<m.length;k++)m[k].setAttribute('d',d);
var n=document.querySelectorAll('path.bay');for(var k=0;k<n.length;k++)n[k].setAttribute('d',b);
})();
</script>
</body></html>
